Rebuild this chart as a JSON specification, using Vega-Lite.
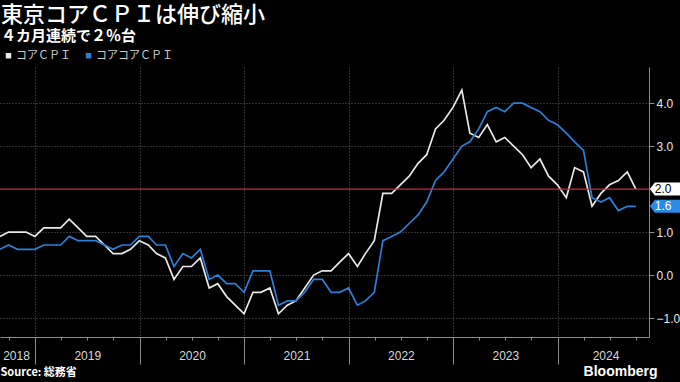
{
  "$schema": "https://vega.github.io/schema/vega-lite/v6.json",
  "width": 649,
  "height": 270,
  "autosize": "none",
  "padding": {"left": 0, "top": 67, "right": 31, "bottom": 45},
  "background": "#000000",
  "config": {"view": {"stroke": null}},
  "title": {
    "text": "東京コアＣＰＩは伸び縮小",
    "subtitle": "４カ月連続で２％台",
    "anchor": "start",
    "frame": "group",
    "font": "Noto Sans CJK JP",
    "fontSize": 22,
    "fontWeight": 500,
    "color": "#ffffff",
    "subtitleFont": "Noto Sans CJK JP",
    "subtitleFontSize": 15,
    "subtitleFontWeight": "bold",
    "subtitleColor": "#ffffff",
    "subtitlePadding": 2,
    "offset": 5,
    "dx": 1
  },
  "data": {
    "values": [
      {"date": "2018-08-31", "コアＣＰＩ": 0.9, "コアコアＣＰＩ": 0.6},
      {"date": "2018-09-30", "コアＣＰＩ": 1.0, "コアコアＣＰＩ": 0.7},
      {"date": "2018-10-31", "コアＣＰＩ": 1.0, "コアコアＣＰＩ": 0.6},
      {"date": "2018-11-30", "コアＣＰＩ": 1.0, "コアコアＣＰＩ": 0.6},
      {"date": "2018-12-31", "コアＣＰＩ": 0.9, "コアコアＣＰＩ": 0.6},
      {"date": "2019-01-31", "コアＣＰＩ": 1.1, "コアコアＣＰＩ": 0.7},
      {"date": "2019-02-28", "コアＣＰＩ": 1.1, "コアコアＣＰＩ": 0.7},
      {"date": "2019-03-31", "コアＣＰＩ": 1.1, "コアコアＣＰＩ": 0.7},
      {"date": "2019-04-30", "コアＣＰＩ": 1.3, "コアコアＣＰＩ": 0.9},
      {"date": "2019-05-31", "コアＣＰＩ": 1.1, "コアコアＣＰＩ": 0.8},
      {"date": "2019-06-30", "コアＣＰＩ": 0.9, "コアコアＣＰＩ": 0.8},
      {"date": "2019-07-31", "コアＣＰＩ": 0.9, "コアコアＣＰＩ": 0.8},
      {"date": "2019-08-31", "コアＣＰＩ": 0.7, "コアコアＣＰＩ": 0.7},
      {"date": "2019-09-30", "コアＣＰＩ": 0.5, "コアコアＣＰＩ": 0.6},
      {"date": "2019-10-31", "コアＣＰＩ": 0.5, "コアコアＣＰＩ": 0.7},
      {"date": "2019-11-30", "コアＣＰＩ": 0.6, "コアコアＣＰＩ": 0.7},
      {"date": "2019-12-31", "コアＣＰＩ": 0.8, "コアコアＣＰＩ": 0.9},
      {"date": "2020-01-31", "コアＣＰＩ": 0.7, "コアコアＣＰＩ": 0.9},
      {"date": "2020-02-29", "コアＣＰＩ": 0.5, "コアコアＣＰＩ": 0.7},
      {"date": "2020-03-31", "コアＣＰＩ": 0.4, "コアコアＣＰＩ": 0.7},
      {"date": "2020-04-30", "コアＣＰＩ": -0.1, "コアコアＣＰＩ": 0.2},
      {"date": "2020-05-31", "コアＣＰＩ": 0.2, "コアコアＣＰＩ": 0.5},
      {"date": "2020-06-30", "コアＣＰＩ": 0.2, "コアコアＣＰＩ": 0.4},
      {"date": "2020-07-31", "コアＣＰＩ": 0.4, "コアコアＣＰＩ": 0.6},
      {"date": "2020-08-31", "コアＣＰＩ": -0.3, "コアコアＣＰＩ": -0.1},
      {"date": "2020-09-30", "コアＣＰＩ": -0.2, "コアコアＣＰＩ": 0.0},
      {"date": "2020-10-31", "コアＣＰＩ": -0.5, "コアコアＣＰＩ": -0.2},
      {"date": "2020-11-30", "コアＣＰＩ": -0.7, "コアコアＣＰＩ": -0.2},
      {"date": "2020-12-31", "コアＣＰＩ": -0.9, "コアコアＣＰＩ": -0.4},
      {"date": "2021-01-31", "コアＣＰＩ": -0.4, "コアコアＣＰＩ": 0.1},
      {"date": "2021-02-28", "コアＣＰＩ": -0.4, "コアコアＣＰＩ": 0.1},
      {"date": "2021-03-31", "コアＣＰＩ": -0.3, "コアコアＣＰＩ": 0.1},
      {"date": "2021-04-30", "コアＣＰＩ": -0.9, "コアコアＣＰＩ": -0.7},
      {"date": "2021-05-31", "コアＣＰＩ": -0.7, "コアコアＣＰＩ": -0.6},
      {"date": "2021-06-30", "コアＣＰＩ": -0.6, "コアコアＣＰＩ": -0.6},
      {"date": "2021-07-31", "コアＣＰＩ": -0.3, "コアコアＣＰＩ": -0.4},
      {"date": "2021-08-31", "コアＣＰＩ": 0.0, "コアコアＣＰＩ": -0.1},
      {"date": "2021-09-30", "コアＣＰＩ": 0.1, "コアコアＣＰＩ": -0.1},
      {"date": "2021-10-31", "コアＣＰＩ": 0.1, "コアコアＣＰＩ": -0.4},
      {"date": "2021-11-30", "コアＣＰＩ": 0.3, "コアコアＣＰＩ": -0.4},
      {"date": "2021-12-31", "コアＣＰＩ": 0.5, "コアコアＣＰＩ": -0.3},
      {"date": "2022-01-31", "コアＣＰＩ": 0.2, "コアコアＣＰＩ": -0.7},
      {"date": "2022-02-28", "コアＣＰＩ": 0.5, "コアコアＣＰＩ": -0.6},
      {"date": "2022-03-31", "コアＣＰＩ": 0.8, "コアコアＣＰＩ": -0.4},
      {"date": "2022-04-30", "コアＣＰＩ": 1.9, "コアコアＣＰＩ": 0.8},
      {"date": "2022-05-31", "コアＣＰＩ": 1.9, "コアコアＣＰＩ": 0.9},
      {"date": "2022-06-30", "コアＣＰＩ": 2.1, "コアコアＣＰＩ": 1.0},
      {"date": "2022-07-31", "コアＣＰＩ": 2.3, "コアコアＣＰＩ": 1.2},
      {"date": "2022-08-31", "コアＣＰＩ": 2.6, "コアコアＣＰＩ": 1.4},
      {"date": "2022-09-30", "コアＣＰＩ": 2.8, "コアコアＣＰＩ": 1.7},
      {"date": "2022-10-31", "コアＣＰＩ": 3.4, "コアコアＣＰＩ": 2.2},
      {"date": "2022-11-30", "コアＣＰＩ": 3.6, "コアコアＣＰＩ": 2.4},
      {"date": "2022-12-31", "コアＣＰＩ": 3.9, "コアコアＣＰＩ": 2.7},
      {"date": "2023-01-31", "コアＣＰＩ": 4.3, "コアコアＣＰＩ": 3.0},
      {"date": "2023-02-28", "コアＣＰＩ": 3.3, "コアコアＣＰＩ": 3.1},
      {"date": "2023-03-31", "コアＣＰＩ": 3.2, "コアコアＣＰＩ": 3.4},
      {"date": "2023-04-30", "コアＣＰＩ": 3.5, "コアコアＣＰＩ": 3.8},
      {"date": "2023-05-31", "コアＣＰＩ": 3.1, "コアコアＣＰＩ": 3.9},
      {"date": "2023-06-30", "コアＣＰＩ": 3.2, "コアコアＣＰＩ": 3.8},
      {"date": "2023-07-31", "コアＣＰＩ": 3.0, "コアコアＣＰＩ": 4.0},
      {"date": "2023-08-31", "コアＣＰＩ": 2.8, "コアコアＣＰＩ": 4.0},
      {"date": "2023-09-30", "コアＣＰＩ": 2.5, "コアコアＣＰＩ": 3.9},
      {"date": "2023-10-31", "コアＣＰＩ": 2.7, "コアコアＣＰＩ": 3.8},
      {"date": "2023-11-30", "コアＣＰＩ": 2.3, "コアコアＣＰＩ": 3.6},
      {"date": "2023-12-31", "コアＣＰＩ": 2.1, "コアコアＣＰＩ": 3.5},
      {"date": "2024-01-31", "コアＣＰＩ": 1.8, "コアコアＣＰＩ": 3.3},
      {"date": "2024-02-29", "コアＣＰＩ": 2.5, "コアコアＣＰＩ": 3.1},
      {"date": "2024-03-31", "コアＣＰＩ": 2.4, "コアコアＣＰＩ": 2.9},
      {"date": "2024-04-30", "コアＣＰＩ": 1.6, "コアコアＣＰＩ": 1.8},
      {"date": "2024-05-31", "コアＣＰＩ": 1.9, "コアコアＣＰＩ": 1.7},
      {"date": "2024-06-30", "コアＣＰＩ": 2.1, "コアコアＣＰＩ": 1.8},
      {"date": "2024-07-31", "コアＣＰＩ": 2.2, "コアコアＣＰＩ": 1.5},
      {"date": "2024-08-31", "コアＣＰＩ": 2.4, "コアコアＣＰＩ": 1.6},
      {"date": "2024-09-30", "コアＣＰＩ": 2.0, "コアコアＣＰＩ": 1.6}
    ]
  },
  "transform": [
    {"fold": ["コアＣＰＩ", "コアコアＣＰＩ"], "as": ["series", "value"]}
  ],
  "layer": [
    {
      "mark": {"type": "line", "strokeWidth": 1.7, "strokeJoin": "miter"},
      "encoding": {
        "x": {
          "field": "date",
          "type": "temporal",
          "scale": {
            "type": "utc",
            "domain": [
              {"year": 2018, "month": 8, "date": 31, "utc": true},
              {"year": 2024, "month": 11, "date": 15, "utc": true}
            ]
          },
          "axis": {
            "orient": "bottom",
            "values": [
              {"year": 2018, "month": 10, "date": 1, "utc": true},
              {"year": 2019, "month": 1, "date": 1, "utc": true},
              {"year": 2019, "month": 4, "date": 1, "utc": true},
              {"year": 2019, "month": 7, "date": 1, "utc": true},
              {"year": 2019, "month": 10, "date": 1, "utc": true},
              {"year": 2020, "month": 1, "date": 1, "utc": true},
              {"year": 2020, "month": 4, "date": 1, "utc": true},
              {"year": 2020, "month": 7, "date": 1, "utc": true},
              {"year": 2020, "month": 10, "date": 1, "utc": true},
              {"year": 2021, "month": 1, "date": 1, "utc": true},
              {"year": 2021, "month": 4, "date": 1, "utc": true},
              {"year": 2021, "month": 7, "date": 1, "utc": true},
              {"year": 2021, "month": 10, "date": 1, "utc": true},
              {"year": 2022, "month": 1, "date": 1, "utc": true},
              {"year": 2022, "month": 4, "date": 1, "utc": true},
              {"year": 2022, "month": 7, "date": 1, "utc": true},
              {"year": 2022, "month": 10, "date": 1, "utc": true},
              {"year": 2023, "month": 1, "date": 1, "utc": true},
              {"year": 2023, "month": 4, "date": 1, "utc": true},
              {"year": 2023, "month": 7, "date": 1, "utc": true},
              {"year": 2023, "month": 10, "date": 1, "utc": true},
              {"year": 2024, "month": 1, "date": 1, "utc": true},
              {"year": 2024, "month": 4, "date": 1, "utc": true},
              {"year": 2024, "month": 7, "date": 1, "utc": true},
              {"year": 2024, "month": 10, "date": 1, "utc": true}
            ],
            "labels": false,
            "tickSize": {"condition": {"test": "utcmonth(datum.value) == 0", "value": 27}, "value": 3},
            "tickColor": "#8c8c8c",
            "domainColor": "#8c8c8c",
            "grid": true,
            "gridOpacity": {"condition": {"test": "utcmonth(datum.value) == 0", "value": 1}, "value": 0},
            "gridColor": "#5e5e5e",
            "gridDash": [1, 2],
            "title": "Source: 総務省",
            "titleAnchor": "start",
            "titleAlign": "left",
            "titleBaseline": "top",
            "titleFont": "Noto Sans CJK JP",
            "titleFontSize": 11,
            "titleFontWeight": "bold",
            "titleColor": "#ffffff",
            "titlePadding": 2
          }
        },
        "y": {
          "field": "value",
          "type": "quantitative",
          "scale": {"domain": [-1.44, 4.84], "nice": false, "zero": false},
          "axis": {
            "orient": "right",
            "values": [-1, -0.5, 0, 0.5, 1, 1.5, 2, 2.5, 3, 3.5, 4, 4.5],
            "labelExpr": "datum.value % 1 == 0 && datum.value != 2 ? format(datum.value, '.1f') : ''",
            "tickSize": {"condition": {"test": "datum.value % 1 == 0", "value": 5}, "value": 3},
            "tickColor": "#8c8c8c",
            "domainColor": "#8c8c8c",
            "grid": true,
            "gridOpacity": {"condition": {"test": "datum.value % 1 == 0 && datum.value != 2", "value": 1}, "value": 0},
            "gridColor": "#5e5e5e",
            "gridDash": [1, 2],
            "labelColor": "#e6e6e6",
            "labelFont": "Liberation Sans",
            "labelFontSize": 12,
            "labelPadding": 2,
            "title": null
          }
        },
        "color": {
          "field": "series",
          "type": "nominal",
          "scale": {"domain": ["コアＣＰＩ", "コアコアＣＰＩ"], "range": ["#e8e8e8", "#2b7fd8"]},
          "legend": {
            "orient": "none",
            "legendX": 3,
            "legendY": -17,
            "direction": "horizontal",
            "title": null,
            "symbolType": "square",
            "symbolSize": 30,
            "symbolStrokeWidth": 0,
            "labelFont": "Noto Sans CJK JP",
            "labelFontSize": 11,
            "labelColor": "#cfcfcf",
            "labelOffset": 2,
            "columnPadding": 12,
            "encode": {"symbols": {"update": {"fill": {"scale": "color", "field": "value"}, "stroke": {"value": "transparent"}}}}
          }
        }
      }
    },
    {
      "data": {"values": [{}]},
      "mark": {"type": "rule", "color": "#c8283c", "strokeWidth": 1.2},
      "encoding": {"y": {"datum": 2, "type": "quantitative", "title": null}}
    },
    {
      "transform": [{"filter": "time(datum.date) == utc(2024, 8, 30)"}],
      "mark": {
        "type": "point",
        "shape": "M14,0L19,-6.5L50,-6.5L50,6.5L19,6.5Z",
        "size": 4,
        "filled": true,
        "opacity": 1,
        "strokeWidth": 0
      },
      "encoding": {
        "x": {
          "field": "date",
          "type": "temporal",
          "axis": {
            "orient": "bottom",
            "values": [
              {"year": 2018, "month": 10, "date": 26, "utc": true},
              {"year": 2019, "month": 7, "date": 2, "utc": true},
              {"year": 2020, "month": 7, "date": 2, "utc": true},
              {"year": 2021, "month": 7, "date": 2, "utc": true},
              {"year": 2022, "month": 7, "date": 2, "utc": true},
              {"year": 2023, "month": 7, "date": 2, "utc": true},
              {"year": 2024, "month": 6, "date": 16, "utc": true}
            ],
            "labelExpr": "utcFormat(datum.value, '%Y')",
            "ticks": false,
            "domain": false,
            "grid": false,
            "labelPadding": 13,
            "labelFont": "Liberation Sans",
            "labelFontSize": 12,
            "labelColor": "#d8d8d8",
            "labelOverlap": false,
            "labelFlush": false,
            "title": "Bloomberg",
            "titleX": 657,
            "titleAlign": "right",
            "titleBaseline": "top",
            "titleFont": "Liberation Sans",
            "titleFontSize": 14,
            "titleFontWeight": "bold",
            "titleColor": "#ffffff",
            "titlePadding": 3
          }
        },
        "y": {"field": "value", "type": "quantitative", "title": null},
        "fill": {
          "condition": {"test": "datum.series == 'コアＣＰＩ'", "value": "#ffffff"},
          "value": "#2a8ae8"
        }
      }
    },
    {
      "transform": [{"filter": "time(datum.date) == utc(2024, 8, 30)"}],
      "mark": {"type": "text", "align": "left", "baseline": "middle", "dx": 19, "font": "Liberation Sans", "fontSize": 12},
      "encoding": {
        "x": {"field": "date", "type": "temporal", "axis": null},
        "y": {"field": "value", "type": "quantitative", "title": null},
        "text": {"field": "value", "type": "quantitative", "format": ".1f"},
        "color": {
          "condition": {"test": "datum.series == 'コアＣＰＩ'", "value": "#000000"},
          "value": "#ffffff"
        }
      }
    }
  ],
  "resolve": {"axis": {"x": "independent"}}
}
